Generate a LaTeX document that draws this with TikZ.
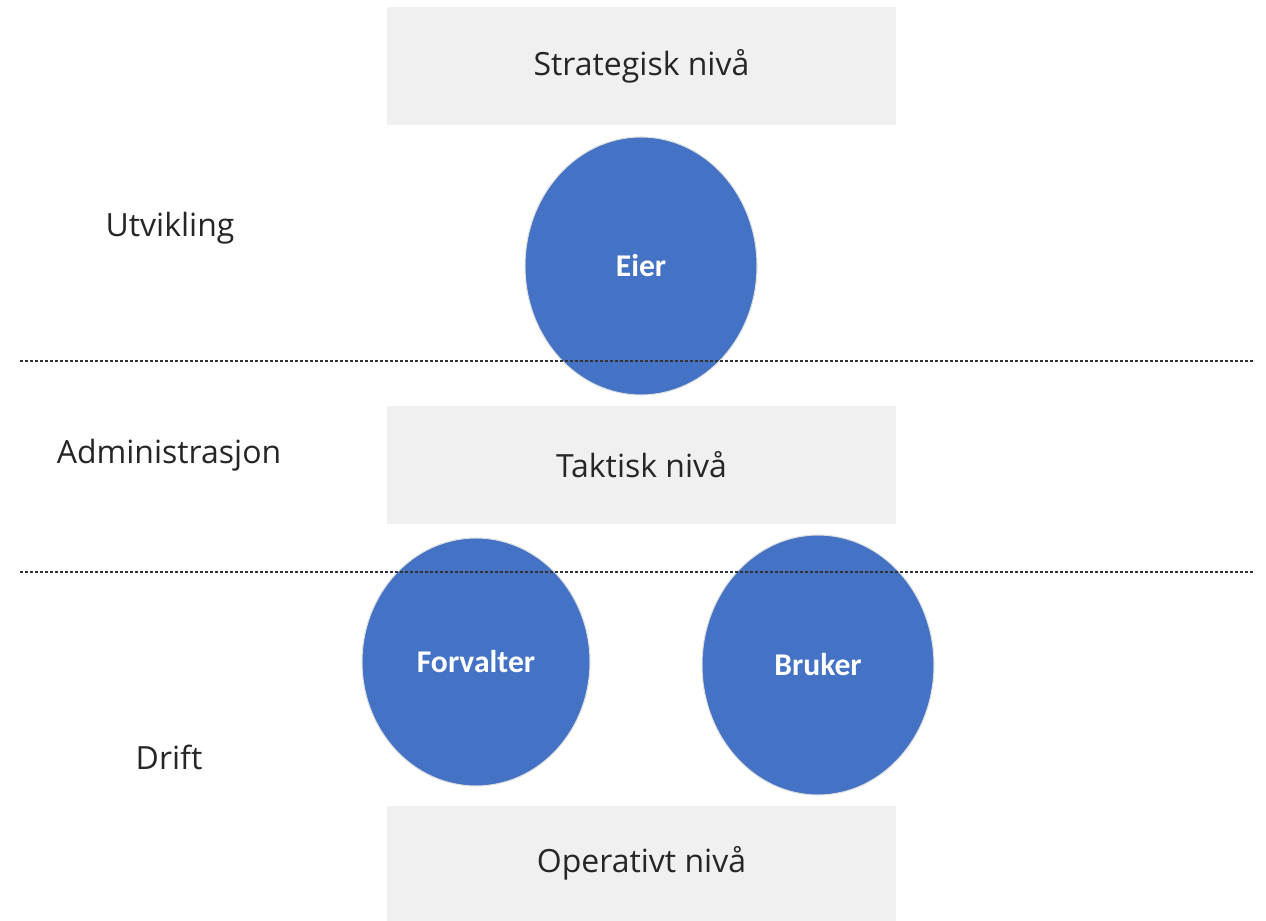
\documentclass[tikz,border=0pt]{standalone}
\usepackage{fontspec}
\setmainfont{Open Sans}
\newfontfamily\rolefont{Carlito}
\usepackage{tikz}
\usetikzlibrary{positioning,shapes.geometric}
\definecolor{LevelGray}{HTML}{F0F0F0}
\definecolor{RoleBlue}{HTML}{4472C4}
\definecolor{TextGray}{HTML}{262626}

\begin{document}
\begin{tikzpicture}[
    font=\fontsize{18.2}{21}\selectfont,
    level/.style={rectangle, fill=LevelGray, text=TextGray, minimum width=10.18cm, minimum height=2.36cm, inner sep=0pt},
    role/.style={ellipse, fill=RoleBlue, draw=gray!25, line width=0.6pt, text=white, inner sep=0pt, font=\rolefont\bfseries\fontsize{18}{21}\selectfont},
    area/.style={text=TextGray, inner sep=0pt},
    divider/.style={draw=black!80, line width=1.5pt, dash pattern=on 0.065cm off 0.035cm}
]
\useasboundingbox (0,0) rectangle (25.32,18.42);

% levels
\node[level] (strat) at (12.83,17.1) {Strategisk niv\r{a}};
\node[level] (takt) at (12.83,9.12) {Taktisk niv\r{a}};
\node[level, minimum height=2.3cm] (oper) at (12.83,1.15) {Operativt niv\r{a}};

% roles
\node[role, minimum width=4.64cm, minimum height=5.16cm] (eier) at (12.82,13.1) {Eier};
\node[role, minimum width=4.56cm, minimum height=4.96cm] (forv) at (9.52,5.18) {Forvalter};
\node[role, minimum width=4.64cm, minimum height=5.2cm] (bruk) at (16.36,5.12) {Bruker};

% areas on the left
\node[area] (utv) at (3.4,13.86) {Utvikling};
\node[area] (adm) at (3.38,9.32) {Administrasjon};
\node[area] (drift) at (3.38,3.28) {Drift};

% dividers between the areas
\coordinate (d1w) at (0.4,11.2);
\coordinate (d1e) at (25.06,11.2);
\coordinate (d2w) at (0.4,6.98);
\coordinate (d2e) at (25.06,6.98);
\draw[divider] (d1w) -- (d1e);
\draw[divider] (d2w) -- (d2e);
\end{tikzpicture}
\end{document}
